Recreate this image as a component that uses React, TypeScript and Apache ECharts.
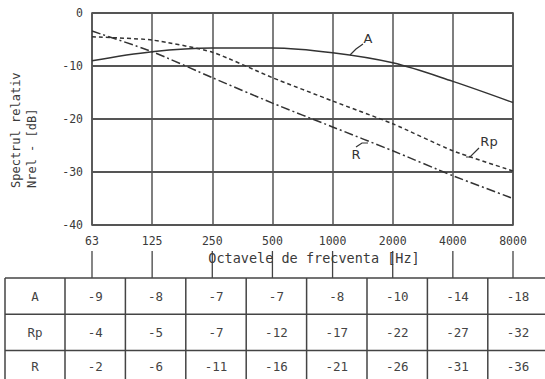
import React, { useEffect, useRef } from "react";
import * as echarts from "echarts";

const categories = ["63", "125", "250", "500", "1000", "2000", "4000", "8000"];
// curves as drawn in the plot
const curveA = [-9, -7.3, -6.6, -6.6, -7.5, -9.4, -12.9, -16.9];
const curveRp = [-4.5, -5.1, -7.4, -12.2, -16.6, -20.9, -26, -29.8];
const curveR = [-3.4, -7.3, -12.2, -17, -21.5, -26, -30.7, -35];
// table values
const rowNames = ["A", "Rp", "R"];
const tableA = [-9, -8, -7, -7, -8, -10, -14, -18];
const tableRp = [-4, -5, -7, -12, -17, -22, -27, -32];
const tableR = [-2, -6, -11, -16, -21, -26, -31, -36];
const yMin = -40;
const yMax = 0;
const yStep = 10;

const MONO = "'DejaVu Sans Mono', monospace";
const INK = "#3a3a3a";

export default function App() {
  const ref = useRef<HTMLDivElement>(null);
  useEffect(() => {
    if (!ref.current) return;
    const chart = echarts.init(ref.current, null, { renderer: "svg" });
    const lineSeries = (name: string, data: number[], type: any, smooth: number) => ({
      name,
      type: "line",
      data,
      smooth,
      showSymbol: false,
      lineStyle: { color: "#333", width: 1.5, type },
      z: 5,
    });
    chart.setOption({
      animation: false,
      backgroundColor: "#ffffff",
      grid: {
        left: 92,
        right: 32,
        top: 13,
        bottom: 154,
        show: true,
        borderColor: "#444",
        borderWidth: 1.5,
        backgroundColor: "transparent",
      },
      xAxis: {
        type: "category",
        data: categories,
        boundaryGap: false,
        axisLine: { show: false },
        axisTick: { show: false },
        axisLabel: { margin: 10, fontSize: 11.5, fontFamily: MONO, color: INK },
        splitLine: { show: true, lineStyle: { color: "#555", width: 1.5 } },
      },
      yAxis: {
        type: "value",
        min: yMin,
        max: yMax,
        interval: yStep,
        axisLine: { show: false },
        axisTick: { show: false },
        axisLabel: { margin: 9, fontSize: 11.5, fontFamily: MONO, color: INK },
        splitLine: { show: true, lineStyle: { color: "#555", width: 2 } },
      },
      series: [
        lineSeries("A", curveA, "solid", 0.35),
        lineSeries("Rp", curveRp, [4, 3], 0.2),
        lineSeries("R", curveR, [9, 3, 2, 3], 0.2),
      ],
    });

    const graphics: any[] = [];
    // connectors from tick labels to table
    categories.forEach((_, i) => {
      const x = chart.convertToPixel({ xAxisIndex: 0 }, i) as number;
      graphics.push({
        type: "line",
        shape: { x1: x, y1: 251, x2: x, y2: 278 },
        style: { stroke: "#444", lineWidth: 1.3 },
      });
    });
    // axis titles
    graphics.push({
      type: "text",
      x: 314,
      y: 258,
      style: {
        text: "Octavele de frecventa [Hz]",
        font: `13.5px ${MONO}`,
        fill: INK,
        align: "center",
        verticalAlign: "middle",
      },
    });
    graphics.push({
      type: "text",
      x: 16,
      y: 188,
      rotation: Math.PI / 2,
      style: {
        text: "Spectrul relativ",
        font: `12px ${MONO}`,
        fill: INK,
        align: "left",
        verticalAlign: "middle",
      },
    });
    graphics.push({
      type: "text",
      x: 32,
      y: 188,
      rotation: Math.PI / 2,
      style: {
        text: "Nrel - [dB]",
        font: `12px ${MONO}`,
        fill: INK,
        align: "left",
        verticalAlign: "middle",
      },
    });
    // curve annotations
    const ann = (text: string, x: number, y: number, pts: number[][]) => {
      graphics.push({
        type: "text",
        x,
        y,
        style: { text, font: `13px 'DejaVu Sans', sans-serif`, fill: "#333", align: "center", verticalAlign: "middle" },
        z: 10,
      });
      graphics.push({
        type: "polyline",
        shape: { points: pts },
        style: { stroke: "#333", lineWidth: 1.2, fill: null },
        z: 10,
      });
    };
    ann("A", 368, 38, [[350, 55], [356, 49], [363, 44]]);
    ann("Rp", 489, 141, [[466, 157], [470, 157], [479, 148]]);
    ann("R", 356, 154, [[356, 147], [362, 143], [368, 143]]);

    // table
    const tLeft = 5;
    const labelW = 60;
    const colW = 60.4;
    const tTop = 278;
    const rowH = 36.3;
    const rows = [tableA, tableRp, tableR];
    const tRight = tLeft + labelW + colW * categories.length;
    const tBottom = tTop + rowH * rows.length;
    for (let r = 0; r <= rows.length; r++) {
      const y = tTop + rowH * r;
      graphics.push({
        type: "line",
        shape: { x1: tLeft, y1: y, x2: tRight, y2: y },
        style: { stroke: "#444", lineWidth: 1.5 },
      });
    }
    for (let c = 0; c <= categories.length + 1; c++) {
      const x = c === 0 ? tLeft : tLeft + labelW + colW * (c - 1);
      graphics.push({
        type: "line",
        shape: { x1: x, y1: tTop, x2: x, y2: tBottom },
        style: { stroke: "#444", lineWidth: 1.5 },
      });
    }
    rows.forEach((vals, r) => {
      const cy = tTop + rowH * r + rowH / 2 - (r === 2 ? 2 : 0);
      graphics.push({
        type: "text",
        x: tLeft + labelW / 2,
        y: cy,
        style: { text: rowNames[r], font: `12.5px ${MONO}`, fill: "#444", align: "center", verticalAlign: "middle" },
      });
      vals.forEach((v, c) => {
        graphics.push({
          type: "text",
          x: tLeft + labelW + colW * c + colW / 2,
          y: cy,
          style: { text: String(v), font: `12.5px ${MONO}`, fill: "#444", align: "center", verticalAlign: "middle" },
        });
      });
    });

    chart.setOption({ graphic: graphics });
    return () => chart.dispose();
  }, []);
  return (
    <div
      ref={ref}
      style={{ position: "fixed", left: 0, top: 0, width: 545, height: 379, background: "#fff" }}
    />
  );
}
